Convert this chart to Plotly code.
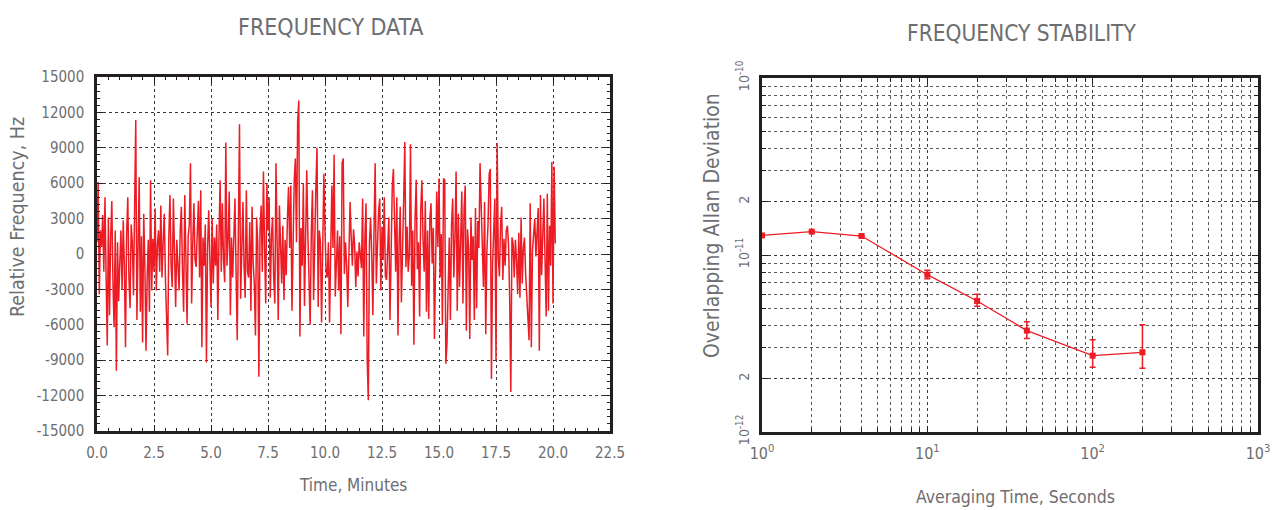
import plotly.graph_objects as go

# ---------------- data ----------------
sample_step_min = 0.05  # one reading every 3 s

freq_hz = [
    1000, 6100, -3400, 2000, 600, 3300, -1500, 4800, -2000, -7750,
    3100, -5200, 1500, 4500, -2500, -6200, 2000, -9900, 1000, -4000,
    -800, 2000, -3000, 2850, -1000, -7900, 1800, 4800, -2000, -4600,
    2500, 900, -3500, 3700, 11350, -5600, 2000, 6500, -4900, 1500,
    -7500, 3400, -1000, -8200, -2000, 1200, -4900, 6250, -3100, 1300,
    -1500, 3850, -3100, 800, 2000, -1500, 4100, -2000, 1000, 3400,
    -2000, -5600, -8600, 1500, 5000, -1000, -2800, 4700, -1000, -4500,
    1200, -500, -3100, 2000, 4000, -1500, -4900, 5000, 500, -5900,
    1500, 2500, 7700, -4200, 1000, 4300, -500, -1100, 2000, 4500,
    -2000, 5400, -7900, 1400, -1000, 2500, -9200, 500, 3700, -1800,
    -4500, 3000, -2500, 1400, -1000, 2500, -5600, 1500, 6250, -1500,
    4300, -500, -2400, 9450, -1000, 1200, 5300, -5200, 1400, -2000,
    2500, 4700, -1500, -7300, 2000, 11000, -3800, 1000, 4400, -1000,
    -3700, 5400, -1500, -2000, 2700, -4800, 4000, -800, -2500, -6900,
    3100, 1000, -10400, 2000, 4100, -1500, 7000, 500, -4200, 6000,
    2000, 4800, -3700, 1500, 3100, -2000, -4200, 7700, -1000, -5600,
    4100, 800, -2500, 2400, -3900, 1200, -1800, 2900, 5700, 500,
    5800, -4800, 1500, 6200, 8100, 1000, 11200, 13000, -7000, 2200,
    -1000, 6000, -4400, 500, 7100, 1500, -2200, -6000, 2000, 5400,
    -3900, 1800, 5700, 9000, -4500, 2000, 1000, -5800, 2500, 6800,
    1900, -1500, -2000, 1000,
    -5800, 2000, 5800, 500, 8400, -3600, -1400, 2000, -3100, 1500,
    -6800, 7700, 8100, -1700, 1000, -1000, -4500, 1500, 4400, 1400,
    -1000, 2100, 800, -2800, 200, -1900, 1000, -100, -1200, 4700,
    -7000, 1500, 4300, -8900, -12400, 1000, 3100, 0, -5200, 2000,
    7700, -2500, 1500, 3600, 4700, -3100, 2300, -500, 4800, -1900,
    -2200, 1000, 3100, -5600, 1200, 5700, 7200, 2500, -1500, 4800,
    -6900, 1000, 4000, -4100, 2000, 4500, 9500, -1100, 2300, -1500,
    0, 9300, -2700, 2000, -7700, 3000, 6300, -1300, 1000, -5300,
    3700, 6250, 1200, -1500, 4500, -4900, 2000, -5500, 3000, 4300,
    -800, 2200, -7200, 1500, 5300, 600, 6400, -2000, 1700, -6000,
    6400,
    6250, -9300, -7600, -2000, 1400, -5600, 2500, 4700, -2000, 1500,
    7000, -4800, 3400, -2800, 1000, 5300, -4200, 3900, 5800, -6500,
    2100, 500, -7200, 3100, -500, 1500, -5600, 3900, -4600, 2800,
    500, 7700, 4100, 600, -2800, 4400, -6800, 200, 2500, 6800,
    7200, -10600, -800, 2000, 4700, -9000, 9400, -300, -1900, 2500,
    4000, -2200, 1300, -1000, 2000, 2400, 800, -3800, -11700, 1400,
    900, -2000, 1200, -500, -3400, 1800, -3700, 3100, -2500, 500,
    1400, -1700, -3500, -4600, -7300, 4300, -7900, 300, 2000, 3000,
    -200, 1800, 3900, -8200, 5000, -1800, 1000, 4700, -400, -5300,
    5100, -4800, 2400, -1000, 7800, -4200, 7400, 900,
]
time_min = [i * sample_step_min for i in range(len(freq_hz))]

tau_s = [1, 2, 4, 10, 20, 40, 100, 200]
adev = [1.29e-11, 1.355e-11, 1.28e-11, 7.74e-12, 5.5e-12, 3.74e-12, 2.70e-12, 2.82e-12]
adev_err_plus = [0.06e-12, 0.06e-12, 0.07e-12, 0.46e-12, 0.50e-12, 0.46e-12, 0.62e-12, 1.21e-12]
adev_err_minus = [0.06e-12, 0.06e-12, 0.07e-12, 0.39e-12, 0.37e-12, 0.36e-12, 0.38e-12, 0.53e-12]

freq_tickvals = [-15000, -12000, -9000, -6000, -3000, 0, 3000, 6000, 9000, 12000, 15000]
freq_ticktext = ["-15000", "-12000", "-9000", "-6000", "-3000", "0", "3000", "6000", "9000", "12000", "15000"]

tau_tickvals = [1, 10, 100, 1000]
tau_ticktext = ["10<sup>0</sup>", "10<sup>1</sup>", "10<sup>2</sup>", "10<sup>3</sup>"]
tau_minor = [m * d for d in (1, 10, 100) for m in range(2, 10)]

adev_tickvals = [1e-12, 2e-12, 1e-11, 2e-11, 1e-10]
adev_ticktext = ["10<sup>-12</sup>", "2", "10<sup>-11</sup>", "2", "10<sup>-10</sup>"]
adev_minor = [m * d for d in (1e-12, 1e-11) for m in range(2, 10)]

# ---------------- style ----------------
RED = "#ed1c24"
FRAME = "#231f20"
TXT = "#6d6e71"
GRID = "#3a3a3a"
MINGRID = "#5a5a5a"
FONT = "DejaVu Sans Condensed, Roboto, sans-serif"

W, H = 1278, 510


def px(x):
    return x / W


def py(y):
    return 1 - y / H


fig = go.Figure()
fig.add_trace(go.Scatter(
    x=time_min, y=freq_hz, mode="lines",
    line=dict(color=RED, width=1.5), xaxis="x", yaxis="y", showlegend=False,
))
fig.add_trace(go.Scatter(
    x=tau_s, y=adev, mode="lines+markers",
    line=dict(color=RED, width=1.3),
    marker=dict(symbol="square", size=6, color=RED),
    error_y=dict(type="data", symmetric=False, array=adev_err_plus,
                 arrayminus=adev_err_minus, color=RED, thickness=1.5, width=3),
    xaxis="x2", yaxis="y2", showlegend=False, cliponaxis=False,
))

common = dict(
    showline=True, linecolor=FRAME, linewidth=2.5, mirror="allticks",
    ticks="inside", tickcolor=FRAME, tickwidth=1, zeroline=False,
    showgrid=True, griddash="dot", gridwidth=1, automargin=False,
)

fig.update_layout(
    width=W, height=H,
    margin=dict(l=0, r=0, t=0, b=0, autoexpand=False),
    paper_bgcolor="white", plot_bgcolor="white",
    font=dict(family=FONT, color=TXT),
    xaxis=dict(
        domain=[px(97), px(610)], range=[0, 22.5], anchor="y",
        tick0=0, dtick=2.5, tickformat=".1f", ticklen=6,
        gridcolor=GRID, ticklabelstandoff=6,
        tickfont=dict(family=FONT, size=15, color=TXT),
        minor=dict(tick0=0, dtick=0.5, ticks="inside", ticklen=3, tickcolor=FRAME, showgrid=False),
        **common,
    ),
    yaxis=dict(
        domain=[py(431), py(77)], range=[-15000, 15000], anchor="x",
        tickmode="array", tickvals=freq_tickvals, ticktext=freq_ticktext, ticklen=6,
        gridcolor=GRID, ticklabelstandoff=7,
        tickfont=dict(family=FONT, size=15, color=TXT),
        minor=dict(tick0=0, dtick=600, ticks="inside", ticklen=3, tickcolor=FRAME, showgrid=False),
        **common,
    ),
    xaxis2=dict(
        type="log", domain=[px(762), px(1258)], range=[0, 3], anchor="y2",
        tickmode="array", tickvals=tau_tickvals, ticktext=tau_ticktext, ticklen=6,
        gridcolor=GRID, ticklabelstandoff=5,
        tickfont=dict(family=FONT, size=16, color=TXT),
        minor=dict(tickmode="array", tickvals=tau_minor, ticks="inside", ticklen=4,
                   tickcolor=FRAME, showgrid=True, gridcolor=MINGRID, griddash="dot", gridwidth=1),
        **common,
    ),
    yaxis2=dict(
        type="log", domain=[py(432), py(78)], range=[-12, -10], anchor="x2",
        tickmode="array", tickvals=adev_tickvals, ticktext=adev_ticktext, ticklen=6,
        tickangle=-90, gridcolor=GRID, ticklabelstandoff=5,
        tickfont=dict(family=FONT, size=14, color=TXT),
        minor=dict(tickmode="array", tickvals=adev_minor, ticks="inside", ticklen=4,
                   tickcolor=FRAME, showgrid=True, gridcolor=MINGRID, griddash="dot", gridwidth=1),
        **common,
    ),
)

ann = [
    dict(text="FREQUENCY DATA", x=px(330), y=py(27), size=23),
    dict(text="FREQUENCY STABILITY", x=px(1021), y=py(33), size=22.5),
    dict(text="Time, Minutes", x=px(353), y=py(485), size=17),
    dict(text="Averaging Time, Seconds", x=px(1015), y=py(497), size=17.5),
]
for a in ann:
    fig.add_annotation(text=a["text"], x=a["x"], y=a["y"], xref="paper", yref="paper",
                       xanchor="center", yanchor="middle", showarrow=False,
                       font=dict(family=FONT, size=a["size"], color=TXT))
fig.add_annotation(text="Relative Frequency, Hz", x=px(17), y=py(217), xref="paper", yref="paper",
                   xanchor="center", yanchor="middle", showarrow=False, textangle=-90,
                   font=dict(family=FONT, size=19.5, color=TXT))
fig.add_annotation(text="Overlapping Allan Deviation", x=px(712), y=py(226), xref="paper", yref="paper",
                   xanchor="center", yanchor="middle", showarrow=False, textangle=-90,
                   font=dict(family=FONT, size=21, color=TXT))

fig.write_html("out.html", config={"displayModeBar": False})

# remove the browser's default 8px page margin so the figure sits at (0, 0)
with open("out.html", encoding="utf-8") as f:
    html = f.read()
html = html.replace("<body>", '<body style="margin:0;padding:0;overflow:hidden">', 1)
with open("out.html", "w", encoding="utf-8") as f:
    f.write(html)
